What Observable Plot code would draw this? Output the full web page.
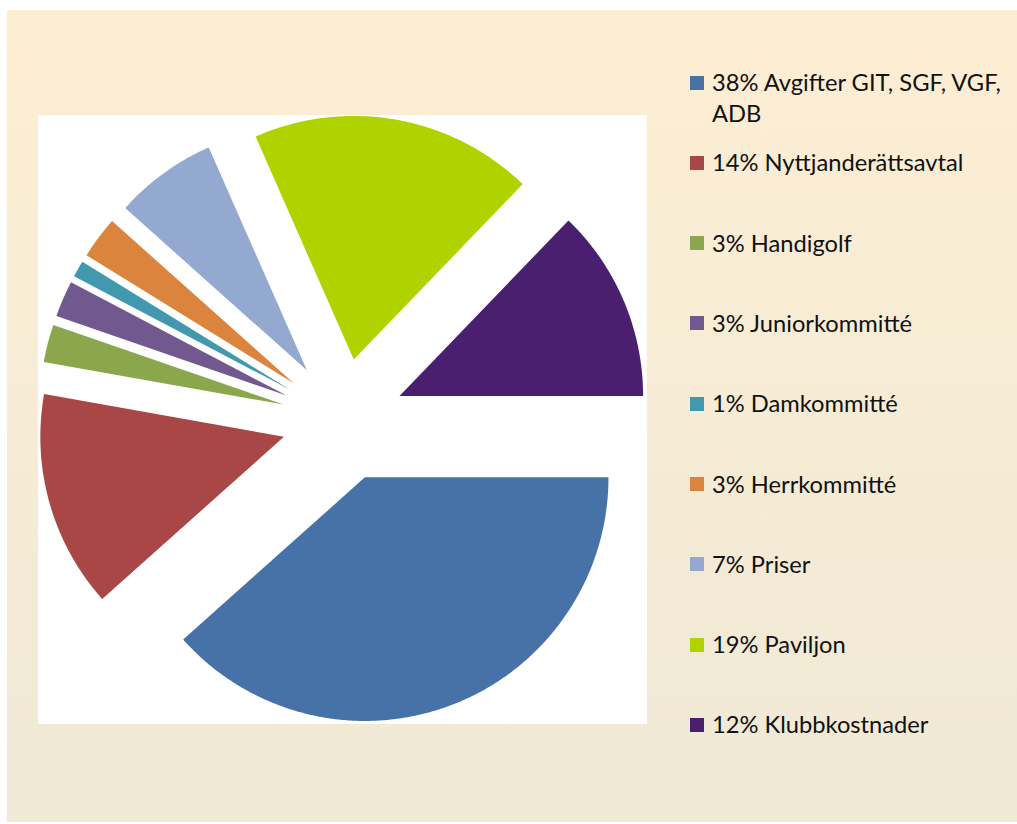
<!DOCTYPE html>
<html>
<head>
<meta charset="utf-8">
<script src="https://cdn.jsdelivr.net/npm/d3@7"></script>
<script src="https://cdn.jsdelivr.net/npm/@observablehq/plot@0.6"></script>
<style>
  html, body { margin: 0; padding: 0; background: #ffffff; }
  #frame { position: relative; width: 1017px; height: 824px; overflow: hidden; }
  #panel { position: absolute; left: 7px; top: 10px; width: 1010px; height: 812px;
           background: linear-gradient(to bottom, #fdeed3 0%, #f7ecd5 45%, #efe9d6 100%); }
  #plotbox { position: absolute; left: 38px; top: 115px; width: 609px; height: 609px; background: #ffffff; }
  #plotbox svg { display: block; }
  .leg { position: absolute; left: 690px; font-family: Lato, "Open Sans", sans-serif; color: #111; }
  .sw { position: absolute; left: 0; width: 14px; height: 14px; }
  .lab { position: absolute; left: 22px; line-height: 31px; white-space: normal; }
</style>
</head>
<body>
<div id="frame">
  <div id="panel"></div>
  <div id="plotbox"></div>
  <div id="legend"></div>
</div>
<script>
// ---- data ----
const categories = ["Avgifter GIT, SGF, VGF, ADB", "Nyttjanderättsavtal", "Handigolf", "Juniorkommitté",
  "Damkommitté", "Herrkommitté", "Priser", "Paviljon", "Klubbkostnader"];
const shares = [38.4, 14.4, 2.5, 2.4, 1.1, 2.8, 6.8, 18.8, 12.8];
const labels = ["38%", "14%", "3%", "3%", "1%", "3%", "7%", "19%", "12%"];
const colors = ["#4672a8", "#a84745", "#8aa74d", "#71588f", "#4198af", "#db843d", "#93a9cf", "#b0d300", "#4b1f6f"];

// ---- slice outlines (exploded pie, first slice at 3 o'clock, clockwise) ----
const startAngle = 90;      // degrees clockwise from 12 o'clock
const explode = 0.252;      // in radius units
const total = d3.sum(shares);
const pts = [];
let acc = startAngle;
categories.forEach((c, i) => {
  const a0 = acc, a1 = acc + shares[i] / total * 360;
  acc = a1;
  const mid = (a0 + a1) / 2 * Math.PI / 180;
  const ox = explode * Math.sin(mid), oy = explode * Math.cos(mid);
  pts.push({key: c, x: ox, y: oy});
  const n = Math.max(4, Math.ceil((a1 - a0) / 0.5));
  for (let k = 0; k <= n; k++) {
    const t = (a0 + (a1 - a0) * k / n) * Math.PI / 180;
    pts.push({key: c, x: ox + Math.sin(t), y: oy + Math.cos(t)});
  }
});

const chart = Plot.plot({
  width: 609, height: 609,
  margin: 0,
  x: {domain: [-1.25, 1.25], axis: null},
  y: {domain: [-1.25, 1.25], axis: null},
  color: {domain: categories, range: colors},
  style: {background: "transparent", overflow: "visible"},
  marks: [
    Plot.line(pts, {x: "x", y: "y", z: "key", fill: "key", stroke: "none"})
  ]
});
document.getElementById("plotbox").appendChild(chart);

// ---- legend (HTML) ----
const legend = document.getElementById("legend");
const cv = document.createElement("canvas").getContext("2d");
cv.font = "100px Lato";
const firstLine = labels[0] + " Avgifter GIT, SGF, VGF,";
const fs = 100 * 291 / cv.measureText(firstLine).width;
categories.forEach((c, i) => {
  const cy = 82.5 + i * 80.3;
  const row = document.createElement("div");
  row.className = "leg";
  row.style.top = cy + "px";
  const sw = document.createElement("div");
  sw.className = "sw";
  sw.style.top = "-7px";
  sw.style.background = colors[i];
  const lab = document.createElement("div");
  lab.className = "lab";
  lab.style.top = "-15.5px";
  lab.style.fontSize = fs.toFixed(2) + "px";
  lab.style.width = "300px";
  lab.textContent = labels[i] + " " + c;
  row.appendChild(sw);
  row.appendChild(lab);
  legend.appendChild(row);
});
</script>
</body>
</html>
